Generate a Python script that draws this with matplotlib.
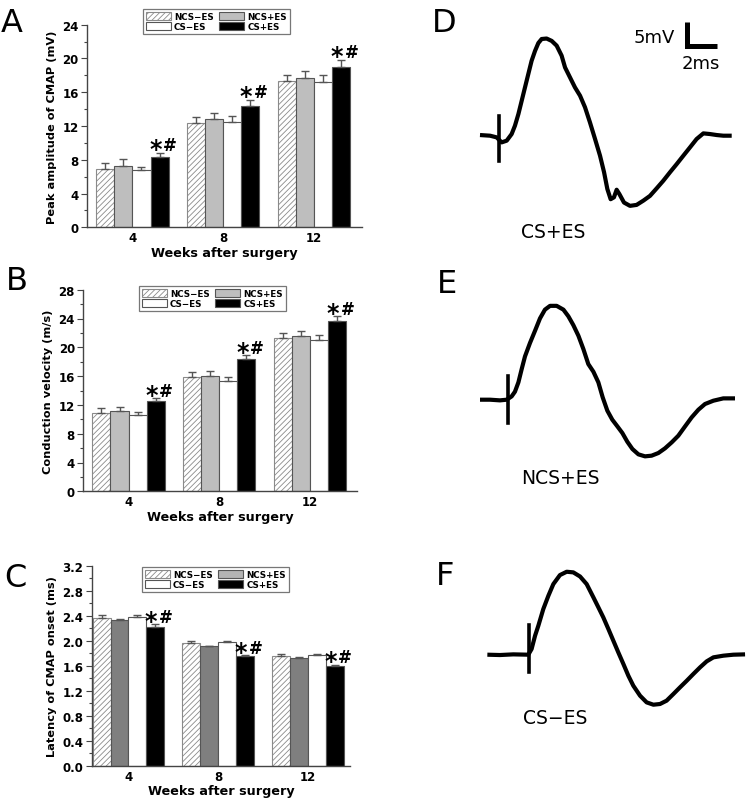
import matplotlib
matplotlib.use('Agg')
import matplotlib.pyplot as plt
from matplotlib.patches import Patch
from matplotlib.ticker import AutoMinorLocator
import numpy as np

# ---------------- data ----------------
weeks = ['4', '8', '12']
group_names = ['NCS\u2212ES', 'NCS+ES', 'CS\u2212ES', 'CS+ES']

# Peak amplitude of CMAP (mV)
amp_ncs_minus = [6.87, 12.32, 17.30]
amp_ncs_plus = [7.22, 12.87, 17.65]
amp_cs_minus = [6.75, 12.44, 17.18]
amp_cs_plus = [8.37, 14.37, 18.96]
amp_ncs_minus_err = [0.78, 0.78, 0.78]
amp_ncs_plus_err = [0.83, 0.63, 0.91]
amp_cs_minus_err = [0.43, 0.76, 0.82]
amp_cs_plus_err = [0.47, 0.75, 0.90]

# Conduction velocity (m/s)
vel_ncs_minus = [10.83, 15.83, 21.25]
vel_ncs_plus = [11.10, 16.00, 21.53]
vel_cs_minus = [10.65, 15.27, 20.97]
vel_cs_plus = [12.50, 18.33, 23.65]
vel_ncs_minus_err = [0.70, 0.74, 0.69]
vel_ncs_plus_err = [0.57, 0.66, 0.77]
vel_cs_minus_err = [0.35, 0.65, 0.70]
vel_cs_plus_err = [0.46, 0.57, 0.65]

# Latency of CMAP onset (ms)
lat_ncs_minus = [2.368, 1.963, 1.750]
lat_ncs_plus = [2.326, 1.910, 1.723]
lat_cs_minus = [2.384, 1.974, 1.766]
lat_cs_plus = [2.219, 1.750, 1.595]
lat_ncs_minus_err = [0.048, 0.037, 0.030]
lat_ncs_plus_err = [0.026, 0.006, 0.011]
lat_cs_minus_err = [0.032, 0.026, 0.021]
lat_cs_plus_err = [0.043, 0.016, 0.021]

# CMAP traces (time ms, voltage mV)
d_t = [0, 0.67, 1.11, 1.44, 1.78, 2.11, 2.33, 2.56, 2.78, 3.0, 3.22, 3.44, 3.67, 3.89, 4.11,
       4.44, 4.78, 5.11, 5.44, 5.67, 6.0, 6.33, 6.67, 7.0, 7.33, 7.67, 8.0, 8.27, 8.49, 8.71,
       8.93, 9.11, 9.29, 9.6, 10.0, 10.44, 10.89, 11.33, 11.78, 12.22, 12.67, 13.11, 13.56,
       14.0, 14.44, 14.89, 15.33, 15.78, 16.22, 16.78]
d_v = [0.14, 0, -0.35, -1.41, -1.05, 0.35, 2.11, 4.57, 7.38, 10.2, 13.0, 15.8, 17.9, 19.55, 20.4,
       20.5, 20.0, 19.0, 16.9, 14.4, 12.3, 10.2, 8.44, 6.0, 2.81, -0.7, -4.2, -7.7, -11.25, -13.4,
       -13.0, -11.4, -12.3, -14.1, -14.8, -14.6, -13.7, -12.7, -11.1, -9.5, -7.7, -6.0, -4.2,
       -2.46, -0.7, 0.49, 0.35, 0.14, 0, 0]
d_stim = [1.27, -5.3, 4.2]

e_t = [0, 0.67, 1.33, 1.78, 2.11, 2.33, 2.56, 2.78, 3.0, 3.33, 3.67, 4.0, 4.33, 4.67, 5.11,
       5.56, 5.89, 6.22, 6.56, 6.89, 7.22, 7.56, 7.89, 8.18, 8.49, 8.82, 9.16, 9.49, 9.82, 10.16,
       10.56, 11.0, 11.44, 11.89, 12.33, 12.78, 13.22, 13.67, 14.11, 14.56, 15.0, 15.56, 16.22, 17.0]
e_v = [0, 0, -0.14, 0, 0.7, 1.69, 3.66, 6.47, 9.14, 11.95, 14.56, 17.16, 19.0, 19.8, 19.8,
       19.0, 17.6, 15.75, 13.5, 10.7, 7.52, 5.9, 3.66, 0.49, -2.32, -4.22, -5.63, -7.03, -8.86, -10.4,
       -11.53, -11.95, -11.81, -11.25, -10.27, -9.0, -7.6, -5.63, -3.73, -2.11, -0.91, -0.21, 0.28, 0.28]
e_stim = [1.89, -4.92, 5.06]

f_t = [0.49, 1.33, 2.22, 3.22, 3.44, 3.67, 3.89, 4.22, 4.56, 4.89, 5.33, 5.78, 6.22, 6.67, 7.11,
       7.56, 7.89, 8.22, 8.56, 8.89, 9.22, 9.56, 9.89, 10.22, 10.67, 11.11, 11.56, 12.0, 12.44,
       12.89, 13.33, 13.78, 14.22, 14.67, 15.11, 15.56, 16.22, 16.89, 17.67]
f_v = [0, -0.07, 0.07, 0, 1.2, 4.0, 6.12, 9.63, 12.45, 14.9, 16.8, 17.5, 17.37, 16.5, 14.9,
       12.1, 10.0, 7.88, 5.41, 2.95, 0.49, -1.97, -4.43, -6.54, -8.65, -10.06, -10.55, -10.4, -9.7,
       -8.3, -6.9, -5.5, -4.08, -2.67, -1.41, -0.56, -0.21, 0, 0.07]
f_stim = [3.27, -3.73, 6.26]

trace_labels = ['CS+ES', 'NCS+ES', 'CS\u2212ES']
scale_ms = 2
scale_mv = 5

# ---------------- figure ----------------
W, H = 750, 804
fig = plt.figure(figsize=(W / 100, H / 100), dpi=100)
plt.rcParams['font.family'] = ['DejaVu Sans']
plt.rcParams['hatch.linewidth'] = 0.6


def px_axes(left, top, right, bottom):
    return fig.add_axes([left / W, 1 - bottom / H, (right - left) / W, (bottom - top) / H])


edge = '#555555'


def bar_panel(ax, series, errs, colors, ylim, yticks, fmt, ylabel, xlim):
    n = len(series)
    for i, (vals, err, col) in enumerate(zip(series, errs, colors)):
        x = np.arange(len(weeks)) + (i - (n - 1) / 2) * 0.2
        if i == 0:
            ax.bar(x, vals, width=0.2, color='white', edgecolor='#8a8a8a', hatch='//////',
                   linewidth=0.8, zorder=2)
        else:
            ax.bar(x, vals, width=0.2, color=col, edgecolor=edge, linewidth=0.8, zorder=2)
        ax.errorbar(x, vals, yerr=[np.zeros(len(vals)), err], fmt='none', ecolor='#555555',
                    elinewidth=1.0, capsize=2.6, capthick=1.0, zorder=3)
        if i == n - 1:
            for xi, v, e in zip(x, vals, err):
                ax.annotate('*', (xi, v + e), xytext=(-3.0, -2.6), textcoords='offset points',
                            ha='center', va='baseline', fontsize=17, fontweight='bold')
                ax.annotate('#', (xi, v + e), xytext=(7.4, 1.6), textcoords='offset points',
                            ha='center', va='baseline', fontsize=12, fontweight='bold')
    ax.set_xlim(*xlim)
    ax.set_ylim(*ylim)
    ax.set_yticks(yticks)
    ax.set_yticklabels([fmt.format(t) for t in yticks])
    ax.yaxis.set_minor_locator(AutoMinorLocator(2))
    ax.set_xticks(np.arange(len(weeks)))
    ax.set_xticklabels(weeks)
    ax.tick_params(axis='x', length=0, pad=3, labelsize=8.5)
    ax.tick_params(axis='y', which='major', direction='out', length=4, width=0.8,
                   color='#444444', labelsize=8.5, pad=2)
    ax.tick_params(axis='y', which='minor', direction='out', length=2.5, width=0.8,
                   color='#444444')
    for lab in ax.get_xticklabels() + ax.get_yticklabels():
        lab.set_fontweight('bold')
    for s in ['top', 'right']:
        ax.spines[s].set_visible(False)
    for s in ['left', 'bottom']:
        ax.spines[s].set_color('#444444')
        ax.spines[s].set_linewidth(1.0)
    ax.set_ylabel(ylabel, fontsize=8.2, fontweight='bold', labelpad=4)
    ax.set_xlabel('Weeks after surgery', fontsize=9.2, fontweight='bold', labelpad=1)


def add_legend(ax, left_px, top_px, plus_color):
    handles = [Patch(facecolor='white', edgecolor='#8a8a8a', hatch='//////', linewidth=0.8),
               Patch(facecolor='white', edgecolor=edge, linewidth=0.8),
               Patch(facecolor=plus_color, edgecolor=edge, linewidth=0.8),
               Patch(facecolor='black', edgecolor=edge, linewidth=0.8)]
    labels = [group_names[0], group_names[2], group_names[1], group_names[3]]
    leg = ax.legend(handles, labels, ncol=2, loc='upper left',
                    bbox_to_anchor=(left_px / W, 1 - top_px / H), bbox_transform=fig.transFigure,
                    prop={'weight': 'bold', 'size': 6.3}, frameon=True, fancybox=False,
                    handlelength=2.9, handleheight=1.1, handletextpad=0.35,
                    columnspacing=0.6, labelspacing=0.12, borderpad=0.3, borderaxespad=0)
    leg.get_frame().set_edgecolor('#555555')
    leg.get_frame().set_linewidth(0.9)


axA = px_axes(87, 25.7, 362, 228.3)
bar_panel(axA, [amp_ncs_minus, amp_ncs_plus, amp_cs_minus, amp_cs_plus],
          [amp_ncs_minus_err, amp_ncs_plus_err, amp_cs_minus_err, amp_cs_plus_err],
          ['white', '#bebebe', 'white', 'black'], (0, 24), list(range(0, 25, 4)), '{:d}',
          'Peak amplitude of CMAP (mV)', (-0.5, 2.53))
add_legend(axA, 143, 10, '#bebebe')

axB = px_axes(83.3, 290.7, 357, 492.3)
bar_panel(axB, [vel_ncs_minus, vel_ncs_plus, vel_cs_minus, vel_cs_plus],
          [vel_ncs_minus_err, vel_ncs_plus_err, vel_cs_minus_err, vel_cs_plus_err],
          ['white', '#bebebe', 'white', 'black'], (0, 28), list(range(0, 29, 4)), '{:d}',
          'Conduction velocity (m/s)', (-0.5, 2.52))
add_legend(axB, 139, 287, '#bebebe')

axC = px_axes(91.7, 566.7, 350, 766.7)
bar_panel(axC, [lat_ncs_minus, lat_ncs_plus, lat_cs_minus, lat_cs_plus],
          [lat_ncs_minus_err, lat_ncs_plus_err, lat_cs_minus_err, lat_cs_plus_err],
          ['white', '#7f7f7f', 'white', 'black'], (0, 3.2), [round(0.4 * k, 1) for k in range(9)],
          '{:.1f}', 'Latency of CMAP onset (ms)', (-0.41, 2.47))
add_legend(axC, 142, 568, '#b4b4b4')

# panel letters
for letter, x, y in [('A', 1, 32), ('B', 6, 290), ('C', 4, 587),
                     ('D', 432, 32), ('E', 437, 293), ('F', 436, 585)]:
    fig.text(x / W, 1 - y / H, letter, fontsize=23, ha='left', va='baseline')

# ---------------- traces ----------------
PX_MS, PX_MV = 15.0, 4.74
T0_PX = 480.0
XLIM = (-0.5, 18.0)
YLIM = (-18.0, 26.0)


def trace_axes(baseline_px):
    left = T0_PX + XLIM[0] * PX_MS
    right = T0_PX + XLIM[1] * PX_MS
    top = baseline_px - YLIM[1] * PX_MV
    bottom = baseline_px - YLIM[0] * PX_MV
    ax = px_axes(left, top, right, bottom)
    ax.set_xlim(*XLIM)
    ax.set_ylim(*YLIM)
    ax.axis('off')
    return ax


traces = [(d_t, d_v, d_stim, 136.7, (4.87, -20.3)),
          (e_t, e_v, e_stim, 400.7, (5.38, -16.4)),
          (f_t, f_v, f_stim, 655.7, (5.0, -13.2))]
for k, (tt, vv, stim, base, lab_pos) in enumerate(traces):
    ax = trace_axes(base)
    ax.plot(tt, vv, color='black', lw=3.0, solid_joinstyle='round', solid_capstyle='butt')
    ax.plot([stim[0], stim[0]], [stim[1], stim[2]], color='black', lw=2.6)
    ax.text(lab_pos[0], lab_pos[1], trace_labels[k], fontsize=13.5, ha='center', va='center',
            clip_on=False)
    if k == 0:
        sx, sy = 13.78, 19.0
        ax.plot([sx, sx, sx + scale_ms], [sy + scale_mv, sy, sy], color='black', lw=3.6,
                solid_joinstyle='miter', solid_capstyle='butt')
        ax.text(sx - 0.78, sy + 1.76, f'{scale_mv}mV', fontsize=13, ha='right', va='center')
        ax.text(sx + 0.94, sy - 3.7, f'{scale_ms}ms', fontsize=13, ha='center', va='center')

fig.savefig('out.png', dpi=100)
